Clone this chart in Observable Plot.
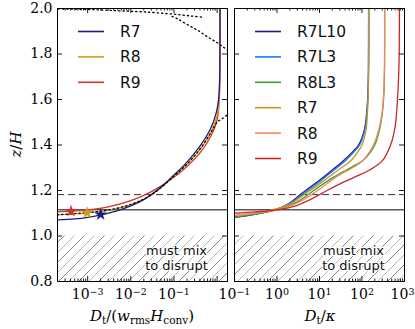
<!DOCTYPE html>
<html><head><meta charset="utf-8">
<script src="https://cdn.jsdelivr.net/npm/d3@7"></script>
<script src="https://cdn.jsdelivr.net/npm/@observablehq/plot@0.6"></script>
<style>
body{margin:0;background:#fff;}
#wrap{position:relative;width:415px;height:329px;overflow:hidden;background:#fff;}
#wrap svg{position:absolute;top:0;background:none !important;overflow:visible !important;max-width:none !important;}
</style></head><body><div id="wrap"></div>
<script>
// ---------- data ----------
const leftNames = ["R7", "R8", "R9"];
const leftColors = ["#1c1c7c", "#d39a17", "#d0342f"];
const r7Left = [[2e-4,1.071],[5e-4,1.075],[1e-3,1.082],[2e-3,1.093],[5e-3,1.112],[1e-2,1.132],[2e-2,1.16],[5e-2,1.215],[0.1,1.268],[0.2,1.325],[0.4,1.395],[0.7,1.47],[0.95,1.54],[1.08,1.6],[1.14,1.68],[1.16,1.8],[1.165,2.0]];
const r8Left = [[2e-4,1.093],[5e-4,1.097],[1e-3,1.102],[3e-3,1.113],[1e-2,1.138],[3e-2,1.18],[0.1,1.262],[0.2,1.315],[0.4,1.38],[0.7,1.45],[1.0,1.53],[1.11,1.6],[1.15,1.7],[1.165,1.8],[1.17,2.0]];
const r9Left = [[2e-4,1.106],[4.1e-4,1.109],[1e-3,1.115],[3e-3,1.128],[1e-2,1.155],[3e-2,1.195],[0.1,1.258],[0.2,1.305],[0.4,1.365],[0.7,1.435],[1.0,1.51],[1.12,1.6],[1.16,1.7],[1.17,1.8],[1.175,2.0]];
const starX = [2.0e-3, 9.7e-4, 4.1e-4];
const starZ = [1.094, 1.102, 1.109];
const modelA = [[2e-4,1.094],[1e-3,1.103],[3e-3,1.114],[1e-2,1.139],[3e-2,1.181],[0.1,1.263],[0.2,1.316],[0.4,1.382],[0.7,1.452],[1.0,1.50],[1.3,1.515],[1.8,1.535]];
const modelB = [[1.8,1.815],[1.4,1.83],[1.0,1.85],[0.6,1.875],[0.35,1.905],[0.2,1.93],[0.12,1.955],[0.09,1.965]];
const modelC = [[2.1e-4,1.998],[1e-3,1.996],[5e-3,1.99],[2e-2,1.985],[0.1,1.975],[0.25,1.967],[0.45,1.962]];

const rightNames = ["R7L10", "R7L3", "R8L3", "R7", "R8", "R9"];
const rightColors = ["#1a1a80", "#1a78ff", "#3c9e3c", "#c8951e", "#f48a5c", "#c62828"];
const r7l10Right = [[0.1,1.082],[0.3,1.095],[1,1.118],[2,1.145],[4,1.19],[10,1.245],[20,1.29],[36,1.33],[60,1.37],[83,1.40],[115,1.47],[130,1.55],[138,1.63],[142,1.75],[143,2.0]];
const r7l3Right = [[0.1,1.085],[0.3,1.097],[1,1.118],[2,1.143],[4.5,1.19],[11,1.245],[22,1.29],[40,1.33],[65,1.37],[88,1.40],[118,1.47],[132,1.55],[140,1.63],[144,1.75],[145,2.0]];
const r8l3Right = [[0.1,1.083],[0.3,1.096],[1,1.117],[3,1.15],[7.3,1.20],[22,1.26],[60,1.305],[110,1.335],[160,1.37],[200,1.40],[260,1.47],[305,1.55],[328,1.63],[340,1.75],[342,2.0]];
const r7Right = [[0.1,1.09],[0.3,1.10],[1,1.12],[2,1.14],[5,1.19],[12,1.24],[25,1.285],[54,1.33],[80,1.37],[100,1.40],[125,1.47],[135,1.55],[140,1.63],[142,1.75],[143,2.0]];
const r8Right = [[0.1,1.09],[0.3,1.10],[1,1.115],[3,1.145],[9,1.20],[25,1.26],[60,1.30],[103,1.33],[150,1.37],[186,1.40],[250,1.47],[300,1.55],[325,1.63],[338,1.75],[340,2.0]];
const r9Right = [[0.1,1.10],[0.3,1.106],[1,1.115],[3,1.135],[6,1.16],[15,1.20],[40,1.24],[80,1.265],[150,1.29],[300,1.33],[470,1.40],[600,1.48],[684,1.6],[740,1.75],[760,2.0]];

const solidLevel = [1.115];
const dashedLevel = [1.182];
const zone = [[0.8, 1.0]];

const yTicks = [0.8, 1.0, 1.2, 1.4, 1.6, 1.8, 2.0];
const leftMajor = [1e-3, 1e-2, 1e-1, 1];
const leftLabelTicks = [1e-3, 1e-2, 1e-1];
const leftTickLabels = ["10^−3", "10^−2", "10^−1"];
const rightMajor = [0.1, 1, 10, 100, 1000];
const rightTickLabels = ["10^−1", "10^0", "10^1", "10^2", "10^3"];
const leftDomain = [2e-4, 1.74];
const rightDomain = [0.1, 1000];

// ---------- helpers ----------
const H = 329, MT = 8, MB = 48, FH = H - MT - MB, FW = 170;
function minorTicks(dom) {
  const out = [];
  for (let e = -5; e <= 4; e++) for (let k = 2; k <= 9; k++) {
    const v = k * Math.pow(10, e);
    if (v > dom[0] && v < dom[1]) out.push(v);
  }
  return out;
}
function tickMarks(major, minor) {
  const s = {stroke: "black", strokeWidth: 0.9};
  return [
    Plot.tickX(major, {x: d => d, insetTop: FH - 5, ...s}),
    Plot.tickX(major, {x: d => d, insetBottom: FH - 5, ...s}),
    Plot.tickX(minor, {x: d => d, insetTop: FH - 2.5, ...s}),
    Plot.tickX(minor, {x: d => d, insetBottom: FH - 2.5, ...s}),
    Plot.tickY(yTicks, {y: d => d, insetRight: FW - 5, ...s}),
    Plot.tickY(yTicks, {y: d => d, insetLeft: FW - 5, ...s})
  ];
}
function levelMarks() {
  return [
    Plot.ruleY(solidLevel, {y: d => d, stroke: "black", strokeWidth: 1}),
    Plot.ruleY(dashedLevel, {y: d => d, stroke: "#333", strokeWidth: 1, strokeDasharray: "7,4"})
  ];
}
function curve(data, color) {
  return Plot.line(data, {x: d => d[0], y: d => d[1], stroke: color, strokeWidth: 1.3, curve: "catmull-rom", clip: true});
}
function addHatch(svg, id) {
  const defs = d3.select(svg).insert("defs", ":first-child");
  const p = defs.append("pattern").attr("id", id).attr("patternUnits", "userSpaceOnUse").attr("width", 20).attr("height", 20);
  p.append("path").attr("d", "M0,20L20,0M-2,2L2,-2M18,22L22,18").attr("stroke", "#333").attr("stroke-width", 0.6).attr("fill", "none");
  p.append("path").attr("d", "M-10,20L10,0M10,20L30,0").attr("stroke", "#b0b0b0").attr("stroke-width", 0.9).attr("fill", "none");
}
function supify(svg) {
  d3.select(svg).selectAll("text").each(function () {
    if (this.childElementCount) return;
    const m = this.textContent.match(/^10\^(.+)$/);
    if (!m) return;
    const sel = d3.select(this);
    sel.text("10");
    sel.append("tspan").attr("dy", "-0.48em").attr("font-size", "9.5px").text(m[1]);
    if (m[1] === "3") sel.attr("dx", -2);
  });
}
function addLegend(svg, names, colors, x0, y0) {
  const g = d3.select(svg).append("g").attr("font-family", "DejaVu Sans").attr("font-size", "15.5px").attr("text-anchor", "start");
  names.forEach((n, i) => {
    const y = y0 + i * 25.4;
    g.append("line").attr("x1", x0).attr("x2", x0 + 26).attr("y1", y).attr("y2", y)
      .attr("stroke", colors[i]).attr("stroke-width", 1.6);
    g.append("text").attr("x", x0 + 42).attr("y", y).attr("dy", "0.36em").attr("text-anchor", "start").attr("fill", "#111").text(n);
  });
}
function annot() {
  return Plot.text(["must mix\nto disrupt"], {
    frameAnchor: "bottom-right", dx: -51, dy: -12, textAnchor: "middle", lineAnchor: "bottom",
    fontFamily: "DejaVu Sans", fontSize: 13, lineHeight: 1.12, fill: "#111",
    stroke: "white", strokeWidth: 2.5
  });
}

// ---------- left panel ----------
const leftLabelMap = new Map(leftLabelTicks.map((t, i) => [t, leftTickLabels[i]]));
const left = Plot.plot({
  width: 57 + FW + 5, height: H, marginLeft: 57, marginRight: 5, marginTop: MT, marginBottom: MB,
  style: {fontFamily: "DejaVu Serif", fontSize: "14px", color: "black"},
  x: {type: "log", domain: leftDomain},
  y: {domain: [0.8, 2.0]},
  marks: [
    Plot.rect(zone, {x1: () => leftDomain[0], x2: () => leftDomain[1], y1: d => d[0], y2: d => d[1], fill: "url(#hatchL)"}),
    ...levelMarks(),
    curve(r9Left, leftColors[2]),
    curve(r8Left, leftColors[1]),
    curve(r7Left, leftColors[0]),
    ...[modelA, modelB, modelC].map(m => Plot.line(m, {x: d => d[0], y: d => d[1], stroke: "black", strokeWidth: 1.3, strokeDasharray: "1.3,3", strokeLinecap: "round", curve: "catmull-rom", clip: true})),
    Plot.dot(leftNames, {x: (d, i) => starX[i], y: (d, i) => starZ[i], symbol: "star", r: 3.5, fill: (d, i) => leftColors[i], stroke: (d, i) => leftColors[i], strokeWidth: 0.5}),
    annot(),
    ...tickMarks(leftMajor, minorTicks(leftDomain)),
    Plot.axisX(leftLabelTicks, {tickSize: 0, tickPadding: 8, tickFormat: d => leftLabelMap.get(d), label: null}),
    Plot.axisY(yTicks, {tickSize: 0, tickPadding: 5, tickFormat: d3.format(".1f"), label: null}),
    Plot.frame({stroke: "black", strokeWidth: 1})
  ]
});
left.style.left = "0px";
addHatch(left, "hatchL");
supify(left);
addLegend(left, leftNames, leftColors, 78, 31.5);
{
  const s = d3.select(left);
  const t = s.append("text").attr("x", 142).attr("y", 321).attr("text-anchor", "middle")
    .attr("font-family", "DejaVu Serif").attr("font-size", "15px").attr("fill", "black");
  t.append("tspan").attr("font-style", "italic").text("D");
  t.append("tspan").attr("font-size", "10.5px").attr("dy", 3).text("t");
  t.append("tspan").attr("dy", -3).text("/(");
  t.append("tspan").attr("font-style", "italic").text("w");
  t.append("tspan").attr("font-size", "10.5px").attr("dy", 3).text("rms");
  t.append("tspan").attr("font-style", "italic").attr("dy", -3).text("H");
  t.append("tspan").attr("font-size", "10.5px").attr("dy", 3).text("conv");
  t.append("tspan").attr("dy", -3).text(")");
  const y = s.append("text").attr("transform", "translate(21,144.5) rotate(-90)").attr("text-anchor", "middle")
    .attr("font-family", "DejaVu Serif").attr("font-size", "15px").attr("fill", "black");
  y.append("tspan").attr("font-style", "italic").text("z");
  y.append("tspan").text("/");
  y.append("tspan").attr("font-style", "italic").text("H");
}

// ---------- right panel ----------
const rightLabelMap = new Map(rightMajor.map((t, i) => [t, rightTickLabels[i]]));
const rightData = [r7l10Right, r7l3Right, r8l3Right, r7Right, r8Right, r9Right];
const right = Plot.plot({
  width: 5 + FW + 11, height: H, marginLeft: 5, marginRight: 11, marginTop: MT, marginBottom: MB,
  style: {fontFamily: "DejaVu Serif", fontSize: "14px", color: "black"},
  x: {type: "log", domain: rightDomain},
  y: {domain: [0.8, 2.0], axis: null},
  marks: [
    Plot.rect(zone, {x1: () => rightDomain[0], x2: () => rightDomain[1], y1: d => d[0], y2: d => d[1], fill: "url(#hatchR)"}),
    ...levelMarks(),
    ...rightData.map((d, i) => curve(d, rightColors[i])),
    annot(),
    ...tickMarks(rightMajor, minorTicks(rightDomain)),
    Plot.axisX(rightMajor, {tickSize: 0, tickPadding: 8, tickFormat: d => rightLabelMap.get(d), label: null}),
    Plot.frame({stroke: "black", strokeWidth: 1})
  ]
});
right.style.left = "229px";
addHatch(right, "hatchR");
supify(right);
addLegend(right, rightNames, rightColors, 26, 31.5);
{
  const s = d3.select(right);
  const t = s.append("text").attr("x", 91).attr("y", 321).attr("text-anchor", "middle")
    .attr("font-family", "DejaVu Serif").attr("font-size", "15px").attr("fill", "black");
  t.append("tspan").attr("font-style", "italic").text("D");
  t.append("tspan").attr("font-size", "10.5px").attr("dy", 3).text("t");
  t.append("tspan").attr("dy", -3).text("/");
  t.append("tspan").attr("font-style", "italic").text("κ");
}

document.getElementById("wrap").append(left, right);
</script>
</body></html>
